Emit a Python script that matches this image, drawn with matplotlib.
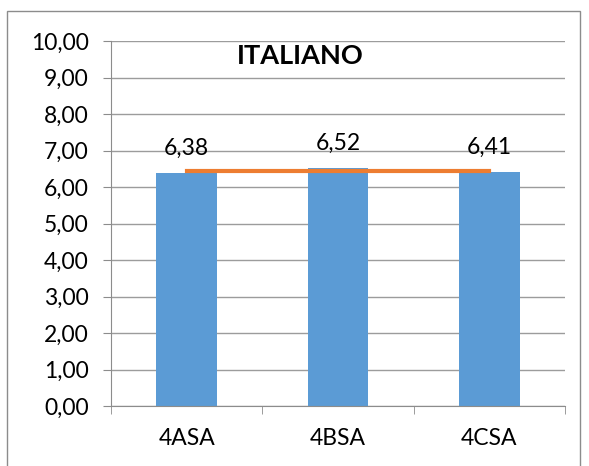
import matplotlib
matplotlib.use('Agg')

import numpy as np
import matplotlib.pyplot as plt
from matplotlib.patches import Rectangle

# Dati
classi = ["4ASA", "4BSA", "4CSA"]
medie = [6.38, 6.52, 6.41]
media_generale = [6.44, 6.44, 6.44]
y_ticks = [0, 1, 2, 3, 4, 5, 6, 7, 8, 9, 10]

plt.rcParams['font.family'] = ['Lato', 'DejaVu Sans']

fig = plt.figure(figsize=(5.89, 4.66), dpi=100)
ax = fig.add_axes([111/589, 1 - 406/466, (565-111)/589, (406-41)/466])

# bordo esterno
fig.patches.append(Rectangle((7/589, -0.01), (580-7)/589, 1 - 11/466 + 0.01,
                             transform=fig.transFigure, fill=False,
                             edgecolor='#8c8c8c', linewidth=1))

x = np.arange(len(classi))
ax.bar(x, medie, width=0.4, color='#5B9BD5', zorder=2)
ax.plot(x, media_generale, color='#ED7D31', linewidth=3, zorder=3)

for xi, v in zip(x, medie):
    ax.annotate(f"{v:.2f}".replace('.', ','), (xi, v), xytext=(0, 10),
                textcoords='offset points', ha='center', va='bottom',
                fontsize=16.5, color='black')

ax.set_xlim(-0.5, 2.5)
ax.set_ylim(0, 10)
ax.set_yticks(y_ticks)
ax.set_yticklabels([f"{v:.2f}".replace('.', ',') for v in y_ticks], fontsize=16.5)
ax.set_xticks(x)
ax.set_xticklabels(classi, fontsize=16.5)
ax.set_xticks([-0.5, 0.5, 1.5, 2.5], minor=True)
ax.tick_params(axis='x', which='major', length=0, pad=16)
ax.tick_params(axis='x', which='minor', length=6, color='#8c8c8c')
ax.tick_params(axis='y', length=6, color='#8c8c8c', pad=10)

ax.grid(axis='y', color='#9c9c9c', linewidth=1, zorder=0)
ax.set_axisbelow(True)
for s in ['top', 'right']:
    ax.spines[s].set_visible(False)
ax.spines['left'].set_color('#8c8c8c')
ax.spines['bottom'].set_color('#8c8c8c')

ax.text(0.416, 0.96, "ITALIANO", transform=ax.transAxes, ha='center', va='center',
        fontsize=19.5, fontweight='bold')

fig.savefig('out.png', dpi=100)
